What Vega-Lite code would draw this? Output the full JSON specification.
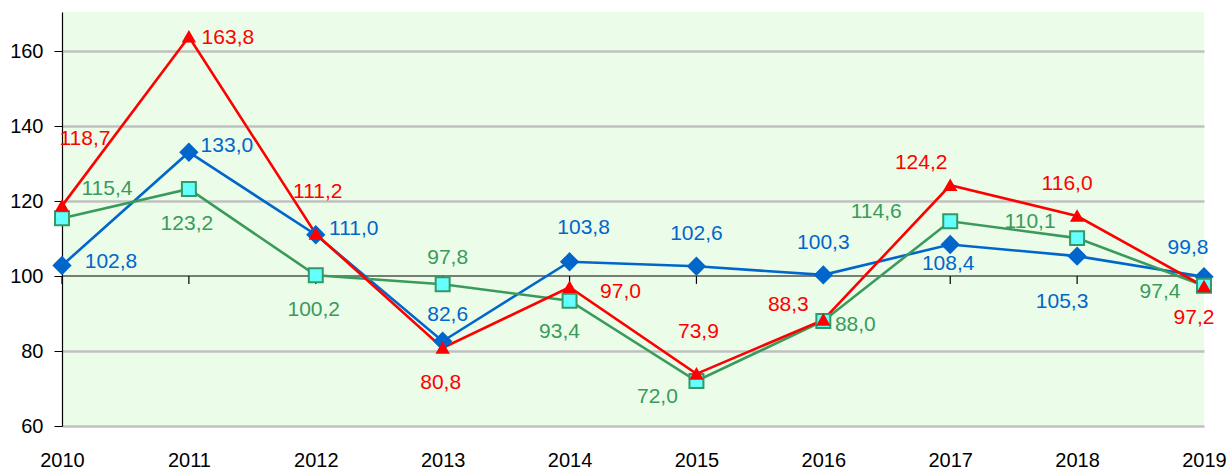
{
  "$schema": "https://vega.github.io/schema/vega-lite/v6.json",
  "width": 1142,
  "height": 414,
  "autosize": {"type": "none"},
  "padding": {"left": 62, "top": 12, "right": 24, "bottom": 46},
  "background": "#FFFFFF",
  "config": {
    "locale": {"number": {"decimal": ",", "thousands": " ", "grouping": [3], "currency": ["", ""]}},
    "view": {"fill": "#EBFDE8", "stroke": null},
    "font": "Liberation Sans",
    "legend": {"disable": true},
    "text": {"font": "Liberation Sans", "fontSize": 21, "align": "center", "baseline": "middle"}
  },
  "data": {"values": [
    {"s": "B", "year": 2010, "v": 102.8}, {"s": "B", "year": 2011, "v": 133.0}, {"s": "B", "year": 2012, "v": 111.0},
    {"s": "B", "year": 2013, "v": 82.6}, {"s": "B", "year": 2014, "v": 103.8}, {"s": "B", "year": 2015, "v": 102.6},
    {"s": "B", "year": 2016, "v": 100.3}, {"s": "B", "year": 2017, "v": 108.4}, {"s": "B", "year": 2018, "v": 105.3},
    {"s": "B", "year": 2019, "v": 99.8},
    {"s": "G", "year": 2010, "v": 115.4}, {"s": "G", "year": 2011, "v": 123.2}, {"s": "G", "year": 2012, "v": 100.2},
    {"s": "G", "year": 2013, "v": 97.8}, {"s": "G", "year": 2014, "v": 93.4}, {"s": "G", "year": 2015, "v": 72.0},
    {"s": "G", "year": 2016, "v": 88.0}, {"s": "G", "year": 2017, "v": 114.6}, {"s": "G", "year": 2018, "v": 110.1},
    {"s": "G", "year": 2019, "v": 97.4},
    {"s": "R", "year": 2010, "v": 118.7}, {"s": "R", "year": 2011, "v": 163.8}, {"s": "R", "year": 2012, "v": 111.2},
    {"s": "R", "year": 2013, "v": 80.8}, {"s": "R", "year": 2014, "v": 97.0}, {"s": "R", "year": 2015, "v": 73.9},
    {"s": "R", "year": 2016, "v": 88.3}, {"s": "R", "year": 2017, "v": 124.2}, {"s": "R", "year": 2018, "v": 116.0},
    {"s": "R", "year": 2019, "v": 97.2}
  ]},
  "encoding": {
    "x": {"field": "year", "type": "ordinal", "scale": {"type": "point", "padding": 0},
      "axis": {"title": null, "labelAngle": 0, "labelFontSize": 20, "labelColor": "#000000", "domain": false, "ticks": false, "grid": false, "labelPadding": 24, "labelBound": false, "labelOverlap": false, "labelFlush": false}},
    "y": {"field": "v", "type": "quantitative", "scale": {"domain": [60, 170.4], "nice": false, "zero": false},
      "axis": {"title": null, "values": [60, 80, 100, 120, 140, 160], "labelFontSize": 20, "labelColor": "#000000",
        "domainColor": "#000000", "domainWidth": 1.2, "tickColor": "#000000", "tickSize": 8, "labelPadding": 11,
        "grid": true, "gridWidth": 2.5, "gridColor": {"condition": {"test": "datum.value === 100", "value": "transparent"}, "value": "#C0C0C0"}}},
    "color": {"field": "s", "type": "nominal", "scale": {"domain": ["B", "G", "R"], "range": ["#0066CC", "#3A9A5C", "#FF0000"]}, "legend": null}
  },
  "layer": [
    {"mark": {"type": "rule", "color": "#000000", "strokeWidth": 1.2}, "transform": [{"filter": "datum.s=='B' && datum.year==2010"}],
      "encoding": {"x": null, "color": null, "y": {"datum": 100}}},
    {"mark": {"type": "rule", "color": "#000000", "strokeWidth": 1.2}, "transform": [{"filter": "datum.s=='B'"}],
      "encoding": {"color": null, "y": {"datum": 100}, "y2": {"datum": 97.9}}},
    {"mark": {"type": "line", "strokeWidth": 2.6}},
    {"mark": {"type": "point", "filled": true, "strokeWidth": 2, "opacity": 1},
      "encoding": {
        "color": null,
        "shape": {"field": "s", "type": "nominal", "scale": {"domain": ["B", "G", "R"], "range": ["diamond", "square", "M0,-0.88L1,0.88L-1,0.88Z"]}, "legend": null},
        "fill": {"field": "s", "type": "nominal", "scale": {"domain": ["B", "G", "R"], "range": ["#0066CC", "#66FFFF", "#FF0000"]}, "legend": null},
        "stroke": {"field": "s", "type": "nominal", "scale": {"domain": ["B", "G", "R"], "range": ["#0066CC", "#339966", "#FF0000"]}, "legend": null},
        "size": {"field": "s", "type": "nominal", "scale": {"domain": ["B", "G", "R"], "range": [270, 120, 260]}, "legend": null}
      }},
    {"mark": {"type": "text", "dx": 23, "dy": -67}, "transform": [{"filter": "datum.s=='R' && datum.year==2010"}], "encoding": {"text": {"field": "v", "type": "quantitative", "format": ".1f"}}},
    {"mark": {"type": "text", "dx": 39, "dy": 1}, "transform": [{"filter": "datum.s=='R' && datum.year==2011"}], "encoding": {"text": {"field": "v", "type": "quantitative", "format": ".1f"}}},
    {"mark": {"type": "text", "dx": 2, "dy": -42}, "transform": [{"filter": "datum.s=='R' && (datum.year==2012 || datum.year==2015)"}], "encoding": {"text": {"field": "v", "type": "quantitative", "format": ".1f"}}},
    {"mark": {"type": "text", "dx": -2, "dy": 35}, "transform": [{"filter": "(datum.s=='R' && datum.year==2013) || (datum.s=='G' && (datum.year==2011 || datum.year==2012))"}], "encoding": {"text": {"field": "v", "type": "quantitative", "format": ".1f"}}},
    {"mark": {"type": "text", "dx": 51, "dy": 5}, "transform": [{"filter": "datum.s=='R' && datum.year==2014"}], "encoding": {"text": {"field": "v", "type": "quantitative", "format": ".1f"}}},
    {"mark": {"type": "text", "dx": -35, "dy": -15}, "transform": [{"filter": "datum.s=='R' && datum.year==2016"}], "encoding": {"text": {"field": "v", "type": "quantitative", "format": ".1f"}}},
    {"mark": {"type": "text", "dx": -29, "dy": -22}, "transform": [{"filter": "datum.s=='R' && datum.year==2017"}], "encoding": {"text": {"field": "v", "type": "quantitative", "format": ".1f"}}},
    {"mark": {"type": "text", "dx": -10, "dy": -32}, "transform": [{"filter": "datum.s=='R' && datum.year==2018"}], "encoding": {"text": {"field": "v", "type": "quantitative", "format": ".1f"}}},
    {"mark": {"type": "text", "dx": -10, "dy": 31}, "transform": [{"filter": "(datum.s=='R' && datum.year==2019) || (datum.s=='G' && datum.year==2014)"}], "encoding": {"text": {"field": "v", "type": "quantitative", "format": ".1f"}}},
    {"mark": {"type": "text", "dx": 49, "dy": -4}, "transform": [{"filter": "datum.s=='B' && datum.year==2010"}], "encoding": {"text": {"field": "v", "type": "quantitative", "format": ".1f"}}},
    {"mark": {"type": "text", "dx": 38, "dy": -6}, "transform": [{"filter": "datum.s=='B' && (datum.year==2011 || datum.year==2012)"}], "encoding": {"text": {"field": "v", "type": "quantitative", "format": ".1f"}}},
    {"mark": {"type": "text", "dx": 5, "dy": -26}, "transform": [{"filter": "datum.year==2013 && (datum.s=='B' || datum.s=='G')"}], "encoding": {"text": {"field": "v", "type": "quantitative", "format": ".1f"}}},
    {"mark": {"type": "text", "dx": 14, "dy": -34}, "transform": [{"filter": "datum.s=='B' && datum.year==2014"}], "encoding": {"text": {"field": "v", "type": "quantitative", "format": ".1f"}}},
    {"mark": {"type": "text", "dx": 0, "dy": -32}, "transform": [{"filter": "datum.s=='B' && (datum.year==2015 || datum.year==2016)"}], "encoding": {"text": {"field": "v", "type": "quantitative", "format": ".1f"}}},
    {"mark": {"type": "text", "dx": -2, "dy": 19}, "transform": [{"filter": "datum.s=='B' && datum.year==2017"}], "encoding": {"text": {"field": "v", "type": "quantitative", "format": ".1f"}}},
    {"mark": {"type": "text", "dx": -15, "dy": 46}, "transform": [{"filter": "datum.s=='B' && datum.year==2018"}], "encoding": {"text": {"field": "v", "type": "quantitative", "format": ".1f"}}},
    {"mark": {"type": "text", "dx": -16, "dy": -29}, "transform": [{"filter": "datum.s=='B' && datum.year==2019"}], "encoding": {"text": {"field": "v", "type": "quantitative", "format": ".1f"}}},
    {"mark": {"type": "text", "dx": 45, "dy": -29}, "transform": [{"filter": "datum.s=='G' && datum.year==2010"}], "encoding": {"text": {"field": "v", "type": "quantitative", "format": ".1f"}}},
    {"mark": {"type": "text", "dx": -39, "dy": 16}, "transform": [{"filter": "datum.s=='G' && datum.year==2015"}], "encoding": {"text": {"field": "v", "type": "quantitative", "format": ".1f"}}},
    {"mark": {"type": "text", "dx": 32, "dy": 4}, "transform": [{"filter": "datum.s=='G' && datum.year==2016"}], "encoding": {"text": {"field": "v", "type": "quantitative", "format": ".1f"}}},
    {"mark": {"type": "text", "dx": -74, "dy": -9}, "transform": [{"filter": "datum.s=='G' && datum.year==2017"}], "encoding": {"text": {"field": "v", "type": "quantitative", "format": ".1f"}}},
    {"mark": {"type": "text", "dx": -47, "dy": -16}, "transform": [{"filter": "datum.s=='G' && datum.year==2018"}], "encoding": {"text": {"field": "v", "type": "quantitative", "format": ".1f"}}},
    {"mark": {"type": "text", "dx": -44, "dy": 6}, "transform": [{"filter": "datum.s=='G' && datum.year==2019"}], "encoding": {"text": {"field": "v", "type": "quantitative", "format": ".1f"}}}
  ]
}
